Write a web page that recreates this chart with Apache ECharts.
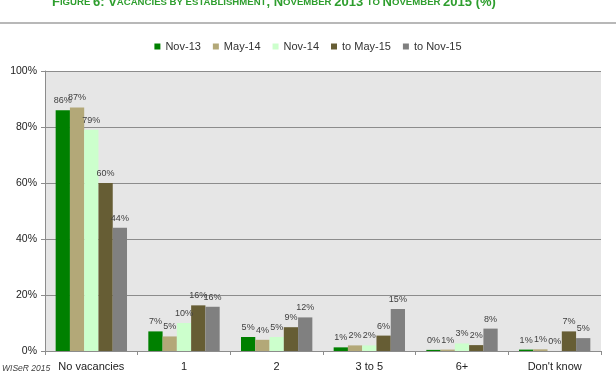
<!DOCTYPE html>
<html>
<head>
<meta charset="utf-8">
<script src="https://cdn.jsdelivr.net/npm/echarts@6/dist/echarts.min.js"></script>
<style>
	html, body { margin: 0; padding: 0; background: #fff; }
	#chart { width: 616px; height: 376px; }
</style>
</head>
<body>
<div id="chart"></div>
<script>
	// categories and series
	const categories = ['No vacancies', '1', '2', '3 to 5', '6+', "Don't know"];
	const seriesNames = ['Nov-13', 'May-14', 'Nov-14', 'to May-15', 'to Nov-15'];
	const nov13 = [86, 7, 5, 1.3, 0.4, 0.5];
	const may14 = [87, 5.2, 4, 2, 0.5, 0.6];
	const nov14 = [79, 10, 5, 2, 2.7, 0];
	const may15 = [60, 16.3, 8.5, 5.5, 2.1, 7];
	const nov15 = [44, 15.8, 12, 15, 8, 4.6];
	const labels = [
		['86%', '7%', '5%', '1%', '0%', '1%'],
		['87%', '5%', '4%', '2%', '1%', '1%'],
		['79%', '10%', '5%', '2%', '3%', '0%'],
		['60%', '16%', '9%', '6%', '2%', '7%'],
		['44%', '16%', '12%', '15%', '8%', '5%']
	];
	const yTicks = [0, 20, 40, 60, 80, 100];
	const colors = ['#008000', '#b3a878', '#ccffcc', '#665d34', '#808080'];

	const font = '"Liberation Sans", "DejaVu Sans", sans-serif';
	const allData = [nov13, may14, nov14, may15, nov15];

	let myChart = echarts.init(document.getElementById('chart'));
	const option = {
		color: colors,
		animation: false,
		textStyle: { fontFamily: font },
		graphic: [
			{
				type: 'text',
				left: 52,
				top: -4,
				style: {
					text: '{b|F}{s|IGURE }{b|6: V}{s|ACANCIES BY ESTABLISHMENT}{b|, N}{s|OVEMBER }{b|2013 }{s|TO }{b|N}{s|OVEMBER }{b|2015 (%)}',
					rich: {
						b: { fontSize: 13, fontWeight: 'bold', fill: '#2e9e2e', fontFamily: font },
						s: { fontSize: 9.6, fontWeight: 'bold', fill: '#2e9e2e', fontFamily: font }
					}
				}
			},
			{
				type: 'line',
				shape: { x1: 0, y1: 23, x2: 616, y2: 23 },
				style: { stroke: '#a0a0a0', lineWidth: 1.5 }
			},
			{
				type: 'text',
				left: 2,
				top: 364,
				style: { text: 'WISeR 2015', fontSize: 8.5, fontStyle: 'italic', fill: '#404040', fontFamily: font }
			}
		],
		legend: {
			data: seriesNames,
			top: 36,
			left: 'center',
			itemWidth: 6,
			itemHeight: 6,
			itemGap: 12,
			icon: 'rect',
			textStyle: { fontSize: 11, color: '#333', fontFamily: font }
		},
		grid: {
			left: 45,
			right: 15,
			top: 71,
			bottom: 25,
			show: true,
			backgroundColor: '#e6e6e6',
			borderWidth: 0
		},
		xAxis: {
			type: 'category',
			data: categories,
			axisLine: { lineStyle: { color: '#8c8c8c' } },
			axisTick: { show: true, length: 4, lineStyle: { color: '#8c8c8c' } },
			axisLabel: { fontSize: 11, color: '#222', margin: 10, interval: 0 }
		},
		yAxis: {
			type: 'value',
			min: yTicks[0],
			max: yTicks[yTicks.length - 1],
			interval: 20,
			axisLine: { show: true, lineStyle: { color: '#8c8c8c' } },
			axisTick: { show: true, length: 4, lineStyle: { color: '#8c8c8c' } },
			splitLine: { lineStyle: { color: '#8c8c8c', width: 1 } },
			axisLabel: { fontSize: 10.5, color: '#222', margin: 8, formatter: '{value}%' }
		},
		series: seriesNames.map(function(name, i) {
			return {
				name: name,
				type: 'bar',
				data: allData[i],
				barGap: '0%',
				barCategoryGap: '23%',
				label: {
					show: true,
					position: 'top',
					distance: 5,
					fontSize: 9,
					color: '#404040',
					formatter: function(p) { return labels[i][p.dataIndex]; }
				}
			};
		})
	};
	myChart.setOption(option);
</script>
</body>
</html>
